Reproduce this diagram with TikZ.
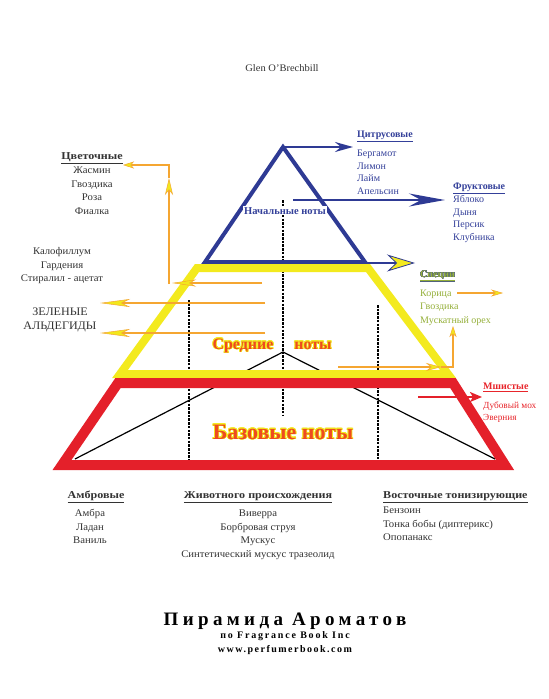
\documentclass[tikz,border=0pt]{standalone}
\usepackage{fontspec}
\setmainfont{Liberation Serif}
\newfontfamily\bodyfont[FakeStretch=1.05]{Liberation Serif}
\newfontfamily\headfont[FakeStretch=1.15]{Liberation Serif}
\usepackage{contour}
\contourlength{0.7pt}
\usetikzlibrary{arrows.meta}
\definecolor{pblue}{HTML}{2E3A94}
\definecolor{pyellow}{HTML}{F3EA1E}
\definecolor{pred}{HTML}{E4202A}
\definecolor{porange}{HTML}{F5A631}
\definecolor{phead}{HTML}{F2E81C}
\definecolor{pgreen}{HTML}{95B03A}
\definecolor{tblue}{HTML}{34409A}
\definecolor{tred}{HTML}{E8252B}
\definecolor{nred}{HTML}{EE4B1F}
\definecolor{ttext}{HTML}{333333}
\tikzset{
  txt/.style={inner sep=0pt, anchor=base, font=\bodyfont\fontsize{10.2}{12}\selectfont, text=ttext},
  ltxt/.style={txt, anchor=base west},
  hd/.style={txt, font=\headfont\fontsize{10.5}{12}\selectfont\bfseries},
  lhd/.style={hd, anchor=base west},
  btxt/.style={txt, font=\fontsize{10}{12}\selectfont},
  lbtxt/.style={btxt, anchor=base west},
  bhd/.style={txt, anchor=base west, font=\fontsize{10}{12}\selectfont\bfseries},
  ora/.style={draw=porange, line width=1.3pt},
  dash black/.style={draw=black, line width=1.6pt, dash pattern=on 2.5pt off 1.2pt},
}
\newcommand{\ul}[1]{\underline{#1}}
\begin{document}
\begin{tikzpicture}[x=1pt,y=-1pt]
\useasboundingbox (0,0) rectangle (549,699);
\fill[white] (0,0) rectangle (549,699);

% ---- black construction lines
\draw[black, line width=1.2pt] (75,459) -- (283,352) -- (495,459);
\draw[dash black] (283,200) -- (283,415);
\draw[dash black] (189,300) -- (189,462);
\draw[dash black] (378,305) -- (378,462);

% ---- pyramid bands
\draw[pblue, line width=4pt] (283,147) -- (365,262) -- (205,262) -- cycle;
\draw[pyellow, line width=8pt] (197,268) -- (368,268) -- (448,374) -- (120,374) -- cycle;
\draw[pred, line width=10pt] (118,383) -- (453,383) -- (505,465) -- (62,465) -- cycle;

% ---- coordinates for arrows
\coordinate (apex) at (283,147);
\coordinate (citr) at (353,147);
\coordinate (fs) at (293,200);
\coordinate (fe) at (445,200);
\coordinate (bys) at (367,263);
\coordinate (bye) at (415,263);
\coordinate (o1s) at (262,283);
\coordinate (o1e) at (172,283);
\coordinate (ovb) at (169,284);
\coordinate (ovt) at (169,178);
\coordinate (ocor) at (169,165);
\coordinate (ofl) at (123,165);
\coordinate (g1s) at (265,303);
\coordinate (g1e) at (100,303);
\coordinate (g2s) at (265,333);
\coordinate (g2e) at (100,333);
\coordinate (r1s) at (338,367);
\coordinate (r1e) at (441,367);
\coordinate (r1c) at (453,367);
\coordinate (r1t) at (453,326);
\coordinate (ks) at (457,293);
\coordinate (ke) at (503,293);
\coordinate (ms) at (418,397);
\coordinate (me) at (482,397);

% ---- blue arrows
\draw[pblue, line width=2pt, -{Stealth[length=18pt,width=10pt,inset=6pt]}] (apex) -- (citr);
\draw[pblue, line width=2.5pt, -{Stealth[length=36pt,width=13pt,inset=12pt]}] (fs) -- (fe);
\draw[pblue, line width=2pt, -{Stealth[length=28pt,width=17pt,inset=9pt,fill=pyellow,line width=0.8pt]}] (bys) -- (bye);

% ---- orange arrows
\draw[ora, -{Stealth[length=24pt,width=7pt,inset=6pt,fill=phead,line width=0.5pt]}] (o1s) -- (o1e);
\draw[ora, -{Stealth[length=17pt,width=8pt,inset=5pt,fill=phead,line width=0.5pt]}] (ovb) -- (ovt);
\draw[ora, -{Stealth[length=11pt,width=7pt,inset=3pt,fill=phead,line width=0.5pt]}] (ovt) -- (ocor) -- (ofl);
\draw[ora, -{Stealth[length=30pt,width=8pt,inset=8pt,fill=phead,line width=0.5pt]}] (g1s) -- (g1e);
\draw[ora, -{Stealth[length=30pt,width=8pt,inset=8pt,fill=phead,line width=0.5pt]}] (g2s) -- (g2e);
\draw[ora, -{Stealth[length=15pt,width=8pt,inset=5pt,fill=phead,line width=0.5pt]}] (r1s) -- (r1e);
\draw[ora, -{Stealth[length=11pt,width=7pt,inset=3pt,fill=phead,line width=0.5pt]}] (r1e) -- (r1c) -- (r1t);
\draw[ora, -{Stealth[length=12pt,width=7pt,inset=4pt,fill=phead,line width=0.5pt]}] (ks) -- (ke);

% ---- red arrow
\draw[pred, line width=2.5pt, -{Stealth[length=12pt,width=10pt,inset=3pt]}] (ms) -- (me);

% ---- author
\node[txt, font=\bodyfont\fontsize{10}{11}\selectfont] (author) at (282,71) {Glen O’Brechbill};

% ---- top labels
\node[txt, font=\fontsize{10.5}{12}\selectfont\bfseries, text=tblue, fill=white, inner sep=0.8pt] (nach) at (285,214) {Начальные ноты};
\node[txt, font=\fontsize{16}{18}\selectfont\bfseries] (sred1) at (243,349) {\contour{pyellow}{\textcolor{nred}{Средние}}};
\node[txt, font=\fontsize{16}{18}\selectfont\bfseries] (sred2) at (313,349) {\contour{pyellow}{\textcolor{nred}{ноты}}};
\node[txt, font=\fontsize{22}{24}\selectfont\bfseries] (baz) at (283,439) {\contour{pyellow}{\textcolor{nred}{Базовые ноты}}};

% ---- floral
\node[hd] (cvh) at (92,159.5) {\ul{Цветочные}};
\foreach \t [count=\i] in {Жасмин,Гвоздика,Роза,Фиалка}
  \node[txt] (cv\i) at (92,{173.5+(\i-1)*13.7}) {\t};
\foreach \t [count=\i] in {Калофиллум,Гардения,Стиралил - ацетат}
  \node[txt] (ka\i) at (62,{254.5+(\i-1)*13.5}) {\t};
\node[txt, font=\bodyfont\fontsize{11.5}{13}\selectfont] (ze1) at (60,315) {ЗЕЛЕНЫЕ};
\node[txt, font=\bodyfont\fontsize{11.5}{13}\selectfont] (ze2) at (60,329) {АЛЬДЕГИДЫ};

% ---- citrus
\node[bhd, text=tblue] (cih) at (357,137.5) {\ul{Цитрусовые}};
\foreach \t [count=\i] in {Бергамот,Лимон,Лайм,Апельсин}
  \node[lbtxt, text=tblue] (ci\i) at (357,{156.5+(\i-1)*12.7}) {\t};
% ---- fruity
\node[bhd, text=tblue] (frh) at (453,189.5) {\ul{Фруктовые}};
\foreach \t [count=\i] in {Яблоко,Дыня,Персик,Клубника}
  \node[lbtxt, text=tblue] (fr\i) at (453,{202.5+(\i-1)*12.7}) {\t};
% ---- spices
\node[bhd] (sph) at (420,277.5) {\contourlength{0.15pt}\contour{tblue!70!pgreen}{\textcolor{pgreen}{\ul{Специи}}}};
\foreach \t [count=\i] in {Корица,Гвоздика,Мускатный орех}
  \node[lbtxt, text=pgreen] (sp\i) at (420,{296.5+(\i-1)*13.3}) {\t};
% ---- mossy
\node[bhd, text=tred] (moh) at (483,389.5) {\ul{Мшистые}};
\foreach \t [count=\i] in {Дубовый мох,Эверния}
  \node[lbtxt, text=tred, font=\fontsize{9.3}{11}\selectfont] (mo\i) at (483,{408.5+(\i-1)*12.3}) {\t};

% ---- bottom groups
\node[hd] (amh) at (96,498.5) {\ul{Амбровые}};
\foreach \t [count=\i] in {Амбра,Ладан,Ваниль}
  \node[txt] (am\i) at (90,{516.5+(\i-1)*13.5}) {\t};
\node[hd] (zhh) at (258,498.5) {\ul{Животного происхождения}};
\foreach \t [count=\i] in {Виверра,Борбровая струя,Мускус,Синтетический мускус тразеолид}
  \node[txt] (zh\i) at (258,{516.5+(\i-1)*13.5}) {\t};
\node[lhd] (voh) at (383,498.5) {\ul{Восточные тонизирующие}};
\foreach \t [count=\i] in {Бензоин,Тонка бобы (диптерикс),Опопанакс}
  \node[ltxt] (vo\i) at (383,{513.5+(\i-1)*13.5}) {\t};

% ---- title
\node[txt, text=black, font=\fontsize{19}{21}\selectfont\bfseries\addfontfeature{LetterSpace=23}] (title) at (285,625.5) {Пирамида Ароматов};
\node[txt, text=black, font=\fontsize{10}{11}\selectfont\bfseries\addfontfeature{LetterSpace=18}] (sub1) at (285,638.5) {по Fragrance Book Inc};
\node[txt, text=black, font=\fontsize{10}{11}\selectfont\bfseries\addfontfeature{LetterSpace=15}] (sub2) at (285,652) {www.perfumerbook.com};
\end{tikzpicture}
\end{document}
